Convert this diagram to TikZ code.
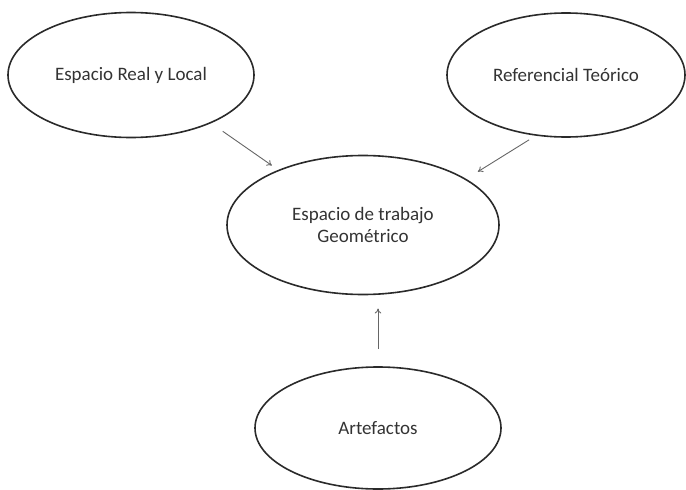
\documentclass[tikz,border=0pt]{standalone}
\usepackage{fontspec}
\setmainfont{Carlito}
\usetikzlibrary{shapes.geometric,arrows.meta}
\definecolor{txt}{HTML}{333333}
\definecolor{edge}{HTML}{2A2A2A}
\definecolor{arr}{HTML}{666666}
\begin{document}
\begin{tikzpicture}[x=1pt,y=-1pt,
  bubble/.style={ellipse,draw=edge,line width=1.6pt,inner sep=0pt,outer sep=0pt,
    text=txt,font=\fontsize{19}{22}\selectfont,align=center},
  link/.style={draw=arr,line width=0.9pt,-{To[length=5pt,width=6.5pt]}}]
\useasboundingbox (0,0) rectangle (686,490);
\node[bubble,minimum width=246pt,minimum height=125pt] (A) at (131,75) {Espacio Real y Local};
\node[bubble,minimum width=238pt,minimum height=124pt] (B) at (566,75) {Referencial Teórico};
\node[bubble,minimum width=272pt,minimum height=139pt] (C) at (363,225) {Espacio de trabajo\\Geométrico};
\node[bubble,minimum width=246pt,minimum height=122pt] (D) at (378,428) {Artefactos};
\draw[link,shorten <=15pt,shorten >=8.5pt] (A.-31) -- (C.147.6);
\draw[link,shorten <=9pt,shorten >=14.5pt] (B.-116.6) -- (C.24.1);
\draw[link,shorten <=18pt,shorten >=14pt] (D.north) -- (D.north |- C.south);
\end{tikzpicture}
\end{document}
